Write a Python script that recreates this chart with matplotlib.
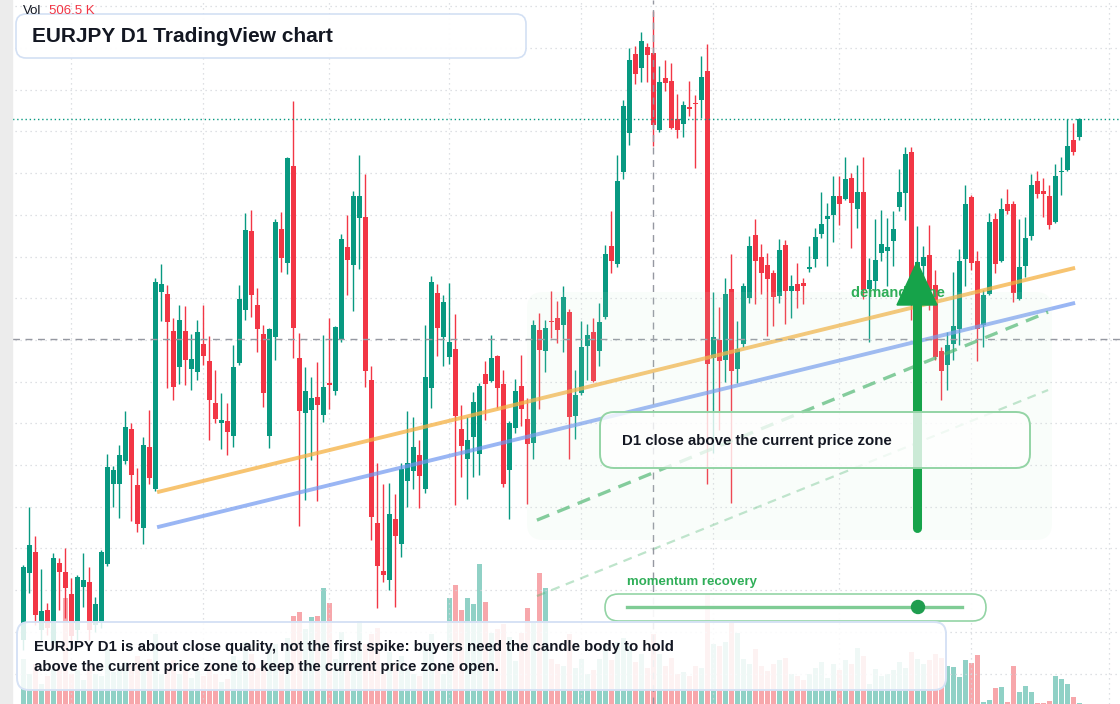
import matplotlib
matplotlib.use("Agg")
import matplotlib.pyplot as plt
from matplotlib.patches import FancyBboxPatch, Polygon, Circle, Rectangle
from matplotlib.lines import Line2D
from matplotlib.transforms import IdentityTransform
import numpy as np

plt.rcParams['font.family'] = ['Liberation Sans', 'DejaVu Sans']

# EURJPY daily candles
opens = [157.81, 159.41, 159.91, 158.05, 158.53, 157.74, 159.65, 159.43, 158.90, 158.05,
         159.07, 159.19, 158.17, 158.24, 159.62, 161.54, 161.54, 162.10, 162.86, 161.52,
         160.49, 162.43, 161.42, 166.15, 166.10, 165.22, 164.35, 165.22, 164.30, 164.23,
         164.90, 164.50, 163.49, 163.01, 163.06, 162.70, 164.45, 165.72, 167.61, 165.84,
         165.14, 162.70, 165.07, 167.66, 166.85, 169.17, 164.57, 163.25, 163.32, 163.63,
         163.20, 163.97, 163.78, 165.00, 167.23, 166.80, 167.93, 167.95, 164.04, 160.61,
         159.46, 159.24, 160.71, 160.10, 161.62, 161.86, 162.24, 161.42, 163.85, 166.13,
         165.07, 164.59, 164.78, 162.86, 162.14, 162.67, 162.26, 164.18, 164.02, 164.62,
         163.94, 161.88, 162.89, 163.90, 163.10, 162.53, 165.24, 164.74, 165.46, 165.53,
         165.36, 165.67, 163.18, 163.73, 164.86, 165.19, 164.74, 165.55, 167.25, 166.82,
         169.03, 169.96, 171.86, 171.52, 172.03, 171.88, 170.04, 171.28, 171.21, 170.30,
         170.18, 170.58, 170.67, 170.75, 171.45, 164.57, 165.00, 164.52, 166.22, 164.30,
         164.90, 166.01, 167.52, 166.99, 166.80, 166.61, 166.06, 167.28, 166.18, 166.34,
         166.37, 166.71, 166.94, 167.54, 167.90, 168.00, 168.45, 168.38, 168.88, 168.14,
         168.55, 166.22, 166.41, 167.09, 167.13, 167.37, 168.19, 168.52, 169.51, 165.96,
         166.77, 167.04, 166.32, 164.74, 164.40, 164.90, 165.26, 166.94, 168.43, 166.89,
         165.36, 166.10, 167.90, 166.89, 168.26, 168.26, 165.98, 166.77, 167.49, 168.81,
         168.57, 168.45, 167.83, 169.02, 169.08, 169.80, 169.87]
highs = [159.60, 160.99, 160.30, 159.50, 158.70, 159.89, 159.77, 160.01, 159.29, 159.36,
         159.89, 159.55, 158.83, 159.96, 162.26, 161.98, 162.48, 163.30, 163.01, 161.93,
         162.67, 163.32, 166.49, 166.82, 166.32, 165.53, 165.84, 165.82, 165.14, 165.48,
         165.84, 165.10, 164.28, 163.73, 163.49, 164.88, 166.32, 168.05, 168.12, 166.25,
         165.36, 165.29, 167.90, 168.07, 169.39, 170.73, 165.17, 164.35, 164.11, 164.47,
         165.12, 165.53, 165.34, 167.54, 168.00, 168.57, 169.44, 168.98, 164.38, 162.05,
         161.54, 161.57, 161.30, 162.05, 163.30, 163.15, 162.60, 165.36, 166.53, 166.34,
         166.08, 166.37, 165.62, 163.44, 163.15, 163.75, 163.97, 164.50, 165.12, 164.64,
         164.28, 163.06, 164.06, 164.64, 163.61, 165.48, 165.65, 165.48, 166.18, 165.94,
         166.29, 165.74, 164.28, 165.46, 165.38, 165.53, 165.89, 167.28, 168.09, 169.44,
         170.75, 172.00, 172.05, 172.39, 172.12, 172.89, 171.57, 171.71, 171.64, 170.90,
         170.73, 171.21, 170.87, 171.81, 172.10, 166.15, 165.79, 166.49, 167.06, 165.46,
         166.37, 167.49, 167.90, 167.30, 167.09, 166.68, 167.42, 167.40, 166.56, 166.85,
         166.49, 167.25, 167.69, 168.55, 168.28, 168.93, 168.93, 169.39, 169.00, 169.20,
         169.39, 166.97, 167.90, 168.12, 167.93, 168.09, 169.10, 169.63, 169.63, 167.73,
         167.25, 167.76, 166.68, 164.83, 165.19, 166.63, 167.18, 168.72, 168.48, 167.13,
         166.20, 168.05, 168.05, 168.40, 168.62, 168.33, 167.90, 167.95, 168.98, 169.05,
         168.88, 168.72, 169.22, 169.39, 170.30, 170.20, 170.32]
lows = [157.57, 158.93, 158.17, 157.81, 157.93, 157.57, 158.53, 158.34, 157.69, 157.81,
        158.60, 157.81, 158.00, 158.10, 159.57, 160.99, 160.73, 162.02, 160.66, 160.39,
        160.10, 161.54, 161.38, 165.46, 163.85, 163.56, 163.94, 163.92, 163.80, 164.04,
        164.40, 162.60, 163.01, 162.38, 162.24, 162.43, 164.40, 165.48, 165.55, 164.71,
        163.39, 162.41, 164.52, 166.63, 166.58, 164.57, 160.54, 161.16, 162.12, 161.14,
        163.03, 163.34, 163.68, 164.95, 166.08, 165.70, 166.70, 163.87, 160.20, 158.57,
        159.19, 159.00, 158.60, 159.80, 160.99, 161.42, 160.97, 161.33, 163.37, 164.62,
        164.38, 164.42, 161.04, 161.71, 161.18, 161.71, 161.76, 163.08, 163.99, 163.37,
        161.47, 160.70, 162.77, 162.94, 161.06, 162.14, 163.34, 164.23, 165.05, 164.93,
        164.71, 162.14, 162.63, 163.68, 164.04, 163.99, 164.38, 165.50, 166.61, 166.75,
        168.86, 169.68, 171.14, 171.19, 171.19, 169.65, 169.99, 170.97, 170.05, 169.84,
        169.87, 170.37, 169.12, 170.32, 161.54, 162.29, 162.84, 163.99, 161.09, 163.97,
        164.83, 165.89, 165.86, 166.10, 165.10, 165.34, 165.89, 165.38, 165.53, 165.77,
        165.86, 166.63, 166.75, 167.45, 166.77, 167.35, 167.76, 168.36, 167.21, 167.69,
        165.98, 164.95, 166.20, 166.89, 166.29, 166.77, 168.09, 167.88, 165.48, 165.53,
        166.39, 165.72, 164.52, 163.56, 163.80, 164.52, 164.88, 166.29, 166.68, 164.50,
        164.83, 166.08, 166.61, 166.87, 168.02, 165.91, 165.96, 166.51, 167.40, 168.40,
        167.95, 167.66, 167.81, 168.48, 169.06, 169.44, 169.80]
closes = [159.55, 160.08, 158.41, 158.51, 158.10, 159.77, 159.43, 159.05, 157.91, 159.31,
          159.24, 158.05, 158.67, 159.91, 161.95, 161.88, 162.24, 162.91, 161.76, 160.58,
          162.48, 161.69, 166.39, 166.34, 165.43, 163.87, 165.48, 164.52, 164.54, 165.19,
          164.62, 163.56, 163.10, 163.08, 162.79, 164.35, 165.98, 167.64, 166.08, 165.26,
          163.73, 165.26, 167.83, 166.97, 169.37, 165.29, 163.30, 163.78, 163.61, 163.44,
          163.87, 163.92, 165.31, 167.42, 166.92, 168.45, 168.45, 164.26, 160.75, 159.58,
          159.36, 160.83, 160.30, 161.90, 162.05, 162.43, 161.74, 164.11, 166.39, 165.29,
          165.91, 164.95, 163.18, 162.46, 162.60, 163.51, 163.90, 163.94, 164.57, 163.85,
          161.54, 163.01, 163.78, 163.34, 162.50, 165.36, 164.76, 165.29, 165.43, 165.24,
          166.03, 163.15, 163.68, 164.83, 165.12, 164.02, 165.43, 167.06, 166.89, 168.81,
          170.61, 171.71, 171.38, 172.17, 171.83, 170.16, 171.19, 171.16, 170.08, 170.04,
          170.63, 170.55, 170.65, 171.31, 164.42, 165.07, 164.50, 166.10, 164.26, 164.78,
          166.29, 167.25, 166.89, 166.61, 166.46, 166.03, 167.16, 166.18, 166.29, 166.18,
          166.29, 166.74, 167.47, 167.78, 167.97, 168.45, 168.26, 168.86, 168.28, 168.55,
          166.20, 166.44, 166.92, 167.30, 167.23, 167.66, 168.55, 169.46, 165.96, 166.87,
          166.99, 166.20, 164.59, 164.26, 164.88, 165.34, 166.89, 168.26, 166.85, 165.26,
          166.08, 167.83, 166.82, 168.14, 168.09, 166.13, 166.75, 167.45, 168.72, 168.50,
          168.50, 167.76, 168.93, 169.04, 169.65, 169.51, 170.30]
# volume, thousands
volumes = [180, 120, 160, 80, 112, 140, 152, 424, 120, 136, 96, 160, 120, 112,
           220, 128, 152, 168, 160, 192, 140, 180, 280, 120, 152, 176, 120, 144, 104, 132,
           112, 160, 120, 88, 100, 192, 176, 248, 200, 144, 168, 220, 240, 160, 264, 352,
           368, 300, 348, 352, 464, 404, 180, 288, 160, 220, 332, 240, 280,
           304, 120, 208, 160, 192, 140, 120, 112, 248, 280, 152, 120,
           424, 476, 376, 424, 400, 560, 408, 284, 300, 320, 268, 172, 284, 384, 324, 524, 464, 180,
           160, 152, 280, 144, 180, 120, 136, 180, 240, 176, 248, 264, 232, 168, 200, 144, 280,
           200, 152, 184, 120, 128, 112, 152, 144,
           440, 240, 232, 248, 328, 284, 180, 160, 220, 152, 132, 160, 176, 184, 120, 112, 96,
           120, 144, 168, 104, 160, 136, 176, 160, 224, 192, 80, 140, 112, 120, 136, 168, 144,
           208, 180, 160, 176, 200, 184,
           152, 148, 108, 176, 164, 196, 8, 16, 64, 68, 8, 152, 48, 72, 48, 4, 4, 12, 112, 100,
           80, 28, 4]
month_starts = [8, 30, 51, 71, 93, 115, 136, 158, 181]

# drawn levels
orange_x, orange_y = [22.3, 175.3], [161.35, 166.73]
blue_x, blue_y = [22.3, 175.3], [160.51, 165.89]
proj_x, proj_y = [85.6, 170.8], [160.68, 165.67]
proj2_x, proj2_y = [85.6, 170.8], [158.86, 163.80]
cross_idx, cross_price = 105, 165.02

GREEN, RED = '#089981', '#f23645'
W, H = 1120, 704

fig = plt.figure(figsize=(W / 100, H / 100), dpi=100)
fig.patch.set_facecolor('white')
ax = fig.add_axes([0, 0, 1, 1])
axv = ax.twinx()
ax.set_zorder(2)
axv.set_zorder(1)
ax.patch.set_visible(False)
for a in (ax, axv):
    a.set_axis_off()

x = np.arange(len(closes))
o, h, l, c = map(np.array, (opens, highs, lows, closes))
up = c >= o
cols = np.where(up, GREEN, RED)

# volume pane
axv.bar(x, volumes, width=0.8, color=np.where(up, '#90d1c6', '#f7a7ab'), zorder=1)
axv.set_ylim(0, 2816)

# grid
for k in range(157, 174):
    ax.axhline(k, color='#d4d6dc', lw=0.9, ls=(0, (1, 3)), zorder=0.5)
for m in month_starts:
    ax.axvline(m, color='#d4d6dc', lw=0.9, ls=(0, (1, 3)), zorder=0.5)

# candles
ax.vlines(x, l, h, colors=cols, lw=1.0, zorder=3)
body = np.maximum(np.abs(c - o), 0.035)
ax.bar(x, body, bottom=np.minimum(o, c), width=0.74, color=cols, zorder=3)

# levels
ax.plot(orange_x, orange_y, color='#f5b041', lw=2.8, alpha=0.75, solid_capstyle='butt', zorder=4)
ax.plot(blue_x, blue_y, color='#6f97f0', lw=2.8, alpha=0.7, solid_capstyle='butt', zorder=4)
ax.plot(proj_x, proj_y, color='#45b36a', lw=2.4, alpha=0.7, ls=(0, (4, 2.6)), zorder=4)
ax.plot(proj2_x, proj2_y, color='#45b36a', lw=1.6, alpha=0.35, ls=(0, (4, 3)), zorder=4)

# crosshair + last price
ax.axvline(cross_idx, color='#9598a1', lw=1.0, ls=(0, (5, 4)), zorder=5)
ax.axhline(cross_price, color='#9598a1', lw=1.0, ls=(0, (5, 4)), zorder=5)
ax.axhline(closes[-1], color=GREEN, lw=1.0, ls=(0, (1, 2)), zorder=5)

ax.set_xlim(-23.3 / 6, (W - 23.3) / 6)
ax.set_ylim(173.153 - H * 0.02398, 173.153)

# ---- overlay annotations in pixel space ----
T = IdentityTransform()


def rbox(x0, y0, x1, y1, r, fc, ec, lw=1.2, z=6):
    p = FancyBboxPatch((x0, H - y1), x1 - x0, y1 - y0,
                       boxstyle=f"round,pad=0,rounding_size={r}",
                       transform=T, fc=fc, ec=ec, lw=lw, zorder=z)
    fig.add_artist(p)


def txt(xp, yp, s, va='center', **kw):
    fig.text(xp, H - yp, s, transform=T, va=va, ha='left', **kw)


# demand zone shading
rbox(527, 292, 1052, 540, 16, (0.80, 0.93, 0.84, 0.10), 'none', lw=0, z=3)
txt(851, 293, 'demand zone', fontsize=10.5, fontweight='bold', color='#2fae58', zorder=4)

# arrow
fig.add_artist(Line2D([917, 917], [H - 528, H - 300], transform=T, color='#16a34a',
                      lw=6.5, solid_capstyle='round', zorder=5))
fig.add_artist(Polygon([(897, H - 305), (937, H - 305), (917, H - 262)], closed=True,
                       transform=T, color='#16a34a', zorder=5))

# D1 close box
rbox(600, 412, 1030, 468, 14, (1, 1, 1, 0.78), '#93d4a5', lw=1.4)
txt(622, 441, 'D1 close above the current price zone', fontsize=10.8, fontweight='bold',
    color='#131722', zorder=7)

# momentum pill
txt(627, 582, 'momentum recovery', fontsize=9.5, fontweight='bold', color='#2fae58', zorder=7)
rbox(605, 594, 986, 621, 13.5, (1, 1, 1, 0.92), '#93d4a5', lw=1.2)
fig.add_artist(Line2D([627, 962], [H - 607, H - 607], transform=T, color='#7fcc95',
                      lw=2.4, zorder=7))
fig.add_artist(Circle((918, H - 607), 6.5, transform=T, color='#1f9d4f', zorder=8))

# bottom note
rbox(17, 622, 946, 690, 12, (1, 1, 1, 0.86), '#d6e2f5', lw=1.4)
txt(34, 647, 'EURJPY D1 is about close quality, not the first spike: buyers need the candle body to hold',
    fontsize=10.8, fontweight='bold', color='#131722', zorder=7)
txt(34, 667, 'above the current price zone to keep the current price zone open.',
    fontsize=10.8, fontweight='bold', color='#131722', zorder=7)

# title
rbox(16, 14, 526, 58, 10, (1, 1, 1, 0.95), '#d3e0f4', lw=1.2)
txt(32, 36, 'EURJPY D1 TradingView chart', fontsize=15, fontweight='bold', color='#131722', zorder=7)

# volume legend
txt(23, 13.5, 'Vol', va='baseline', fontsize=9.5, color='#131722', zorder=7)
txt(49, 13.5, '506.5 K', va='baseline', fontsize=9.5, color=RED, zorder=7)

# left price-scale strip
fig.add_artist(Rectangle((0, 0), 12, H, transform=T, color='#ececec', zorder=9))

fig.savefig('out.png', dpi=100, facecolor='white')
